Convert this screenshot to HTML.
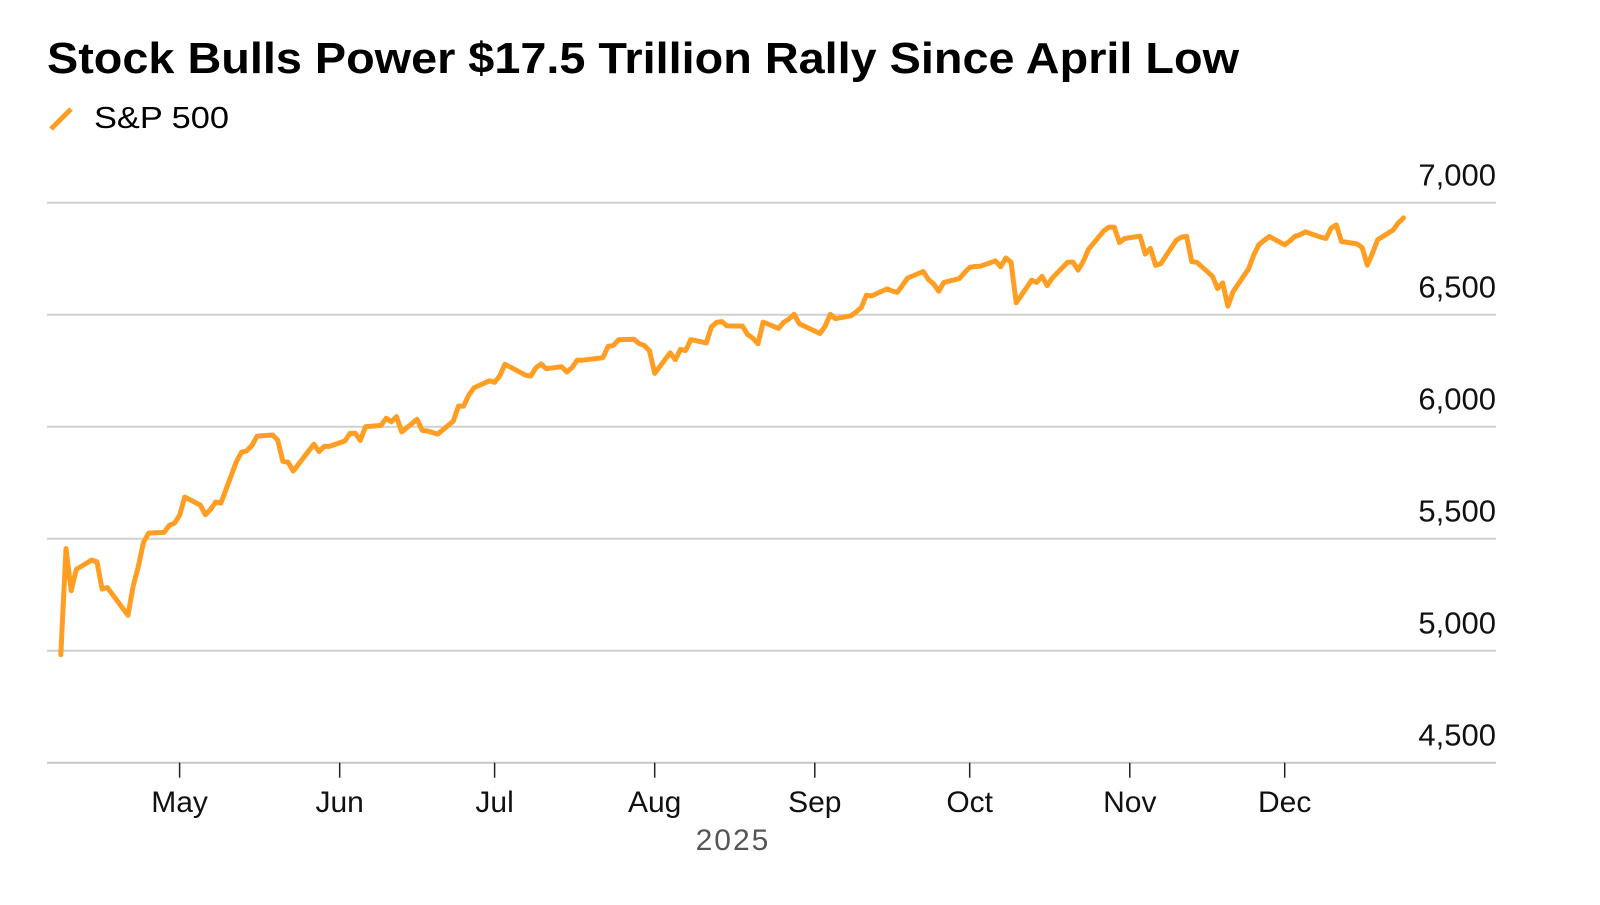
<!DOCTYPE html>
<html><head><meta charset="utf-8"><style>
html,body{margin:0;padding:0;background:#fff;}
svg{display:block;font-family:"Liberation Sans",sans-serif;}
</style></head><body>
<svg id="chart" width="1600" height="905" viewBox="0 0 1600 905">
<text x="47" y="73" font-size="44" font-weight="bold" fill="#000" textLength="1192" lengthAdjust="spacingAndGlyphs">Stock Bulls Power $17.5 Trillion Rally Since April Low</text>
<g>
<line x1="51" y1="129" x2="71" y2="109" stroke="#FF9E22" stroke-width="5"/>
<text x="94" y="128" font-size="31" fill="#000" textLength="135" lengthAdjust="spacingAndGlyphs">S&amp;P 500</text>
</g>
<g id="grid"></g>
<g id="xaxis"></g>
<text x="733" y="850" font-size="30" fill="#555" text-anchor="middle" letter-spacing="2">2025</text>
<path id="line" fill="none" stroke="#FF9E22" stroke-width="5" stroke-linejoin="round" stroke-linecap="round"/>
</svg>
<script>
const yTicks = [4500, 5000, 5500, 6000, 6500, 7000];
const yTickLabels = ["4,500", "5,000", "5,500", "6,000", "6,500", "7,000"];
const monthTicks = ["2025-05-01","2025-06-01","2025-07-01","2025-08-01","2025-09-01","2025-10-01","2025-11-01","2025-12-01"];
const monthLabels = ["May","Jun","Jul","Aug","Sep","Oct","Nov","Dec"];
const dates = ["04-08","04-09","04-10","04-11","04-14","04-15","04-16","04-17","04-21","04-22","04-23","04-24","04-25","04-28","04-29","04-30",
"05-01","05-02","05-05","05-06","05-07","05-08","05-09","05-12","05-13","05-14","05-15","05-16","05-19","05-20","05-21","05-22","05-23","05-27","05-28","05-29","05-30",
"06-02","06-03","06-04","06-05","06-06","06-09","06-10","06-11","06-12","06-13","06-16","06-17","06-18","06-20","06-23","06-24","06-25","06-26","06-27","06-30",
"07-01","07-02","07-03","07-07","07-08","07-09","07-10","07-11","07-14","07-15","07-16","07-17","07-18","07-21","07-22","07-23","07-24","07-25","07-28","07-29","07-30","07-31",
"08-01","08-04","08-05","08-06","08-07","08-08","08-11","08-12","08-13","08-14","08-15","08-18","08-19","08-20","08-21","08-22","08-25","08-26","08-27","08-28","08-29",
"09-02","09-03","09-04","09-05","09-08","09-09","09-10","09-11","09-12","09-15","09-16","09-17","09-18","09-19","09-22","09-23","09-24","09-25","09-26","09-29","09-30",
"10-01","10-02","10-03","10-06","10-07","10-08","10-09","10-10","10-13","10-14","10-15","10-16","10-17","10-20","10-21","10-22","10-23","10-24","10-27","10-28","10-29","10-30","10-31",
"11-03","11-04","11-05","11-06","11-07","11-10","11-11","11-12","11-13","11-14","11-17","11-18","11-19","11-20","11-21","11-24","11-25","11-26","11-28",
"12-01","12-02","12-03","12-04","12-05","12-08","12-09","12-10","12-11","12-12","12-15","12-16","12-17","12-18","12-19","12-22","12-23","12-24"];
const values = [4982,5456,5268,5363,5405,5396,5275,5282,5158,5287,5375,5484,5525,5528,5560,5569,
5604,5686,5650,5607,5631,5664,5659,5844,5886,5892,5916,5958,5963,5940,5845,5842,5802,5922,5889,5912,5912,
5936,5970,5971,5939,6000,6006,6038,6022,6045,5977,6033,5983,5981,5967,6025,6092,6092,6141,6173,6205,
6198,6227,6279,6230,6226,6263,6280,6259,6268,6244,6264,6297,6297,6305,6309,6359,6363,6388,6390,6371,6362,6339,
6238,6330,6299,6345,6340,6389,6374,6446,6466,6469,6450,6449,6411,6395,6370,6467,6439,6466,6481,6502,6460,
6416,6448,6502,6482,6495,6512,6532,6587,6584,6615,6606,6600,6632,6664,6693,6657,6638,6605,6644,6661,6688,
6711,6715,6716,6740,6714,6753,6735,6553,6654,6644,6671,6630,6664,6735,6735,6699,6738,6792,6875,6891,6890,6822,6840,
6851,6771,6796,6720,6728,6832,6846,6850,6737,6734,6672,6617,6642,6538,6603,6705,6766,6813,6849,
6812,6829,6850,6857,6870,6846,6840,6887,6901,6827,6816,6800,6721,6775,6835,6878,6910,6932];

const NS = "http://www.w3.org/2000/svg";
const X0 = 47, X1 = 1496;
const may1 = Date.UTC(2025,4,1), dec1 = Date.UTC(2025,11,1);
function xScale(iso){ const t = Date.parse(iso+"T00:00:00Z"); return 179.6 + (t-may1)/(dec1-may1)*(1284.7-179.6); }
function yScale(v){ return 202.7 + (7000 - v) * (112.0/500); }

const grid = document.getElementById('grid');
yTicks.forEach((v,i)=>{
  const y = yScale(v);
  if (v !== 4500) {
    const l = document.createElementNS(NS,'line');
    l.setAttribute('x1',X0); l.setAttribute('x2',X1); l.setAttribute('y1',y); l.setAttribute('y2',y);
    l.setAttribute('stroke','#d0d0d0'); l.setAttribute('stroke-width','2');
    
    
    grid.appendChild(l);
  }
  const t = document.createElementNS(NS,'text');
  t.setAttribute('x',X1); t.setAttribute('y',y-17); t.setAttribute('text-anchor','end');
  t.setAttribute('font-size','31'); t.setAttribute('fill','#111');
  t.textContent = yTickLabels[i];
  
  
  grid.appendChild(t);
});

const xa = document.getElementById('xaxis');
const base = yScale(4500);
const ax = document.createElementNS(NS,'line');
ax.setAttribute('x1',X0); ax.setAttribute('x2',X1); ax.setAttribute('y1',base); ax.setAttribute('y2',base);
ax.setAttribute('stroke','#c8c8c8'); ax.setAttribute('stroke-width','2');


xa.appendChild(ax);
monthTicks.forEach((d,i)=>{
  const x = xScale(d);
  const tk = document.createElementNS(NS,'line');
  tk.setAttribute('x1',x); tk.setAttribute('x2',x); tk.setAttribute('y1',base); tk.setAttribute('y2',base+15);
  tk.setAttribute('stroke','#222'); tk.setAttribute('stroke-width','1.5');
  
  
  xa.appendChild(tk);
  const t = document.createElementNS(NS,'text');
  t.setAttribute('x',x); t.setAttribute('y',812); t.setAttribute('text-anchor','middle');
  t.setAttribute('font-size','30'); t.setAttribute('fill','#111');
  t.textContent = monthLabels[i];
  
  
  xa.appendChild(t);
});

let d = "";
dates.forEach((md,i)=>{
  const x = xScale("2025-"+md), y = yScale(values[i]);
  d += (i?"L":"M") + x.toFixed(1) + "," + y.toFixed(1);
});
document.getElementById('line').setAttribute('d', d);
</script>
</body></html>
